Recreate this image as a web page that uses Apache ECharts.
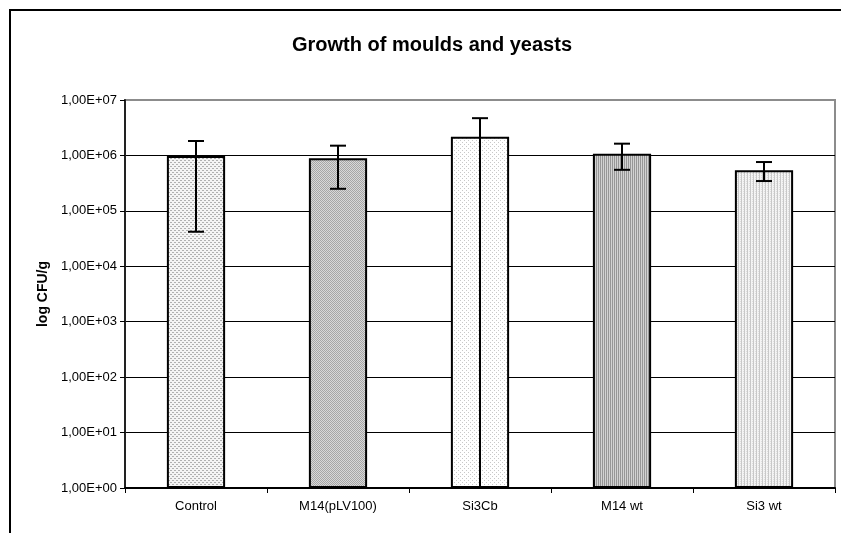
<!DOCTYPE html>
<html>
<head>
<meta charset="utf-8">
<style>
  html, body { margin: 0; padding: 0; background: #fff; }
  #chart { width: 841px; height: 533px; }
</style>
<script src="https://cdn.jsdelivr.net/npm/echarts@6/dist/echarts.min.js"></script>
</head>
<body>
<div id="chart"></div>
<script>
// Samples and colony counts (CFU/g)
const categories = ['Control', 'M14(pLV100)', 'Si3Cb', 'M14 wt', 'Si3 wt'];
const means      = [9.8e5, 8.9e5, 2.18e6, 1.07e6, 5.4e5];
const errHigh    = [1.82e6, 1.5e6, 4.7e6, 1.63e6, 7.6e5];
const errLow     = [4.2e4, 2.5e5, 0, 5.5e5, 3.45e5];   // 0 = lower end falls below the axis
const yTickExps  = [0, 1, 2, 3, 4, 5, 6, 7];

const FONT = '"Liberation Sans", Arial, sans-serif';

// Small repeating fill tiles, drawn pixel by pixel
function tile(w, h, bg, dots) {
  const c = document.createElement('canvas');
  c.width = w; c.height = h;
  const g = c.getContext('2d');
  g.fillStyle = bg; g.fillRect(0, 0, w, h);
  dots.forEach(([x, y, col]) => { g.fillStyle = col; g.fillRect(x, y, 1, 1); });
  return { image: c, repeat: 'repeat' };
}
const fills = [
  tile(4, 4, '#f4f4f4', [[0,0,'#b0b0b0'],[1,0,'#b0b0b0'],[2,2,'#b0b0b0'],[3,2,'#b0b0b0']]),
  tile(2, 2, '#d8d8d8', [[0,0,'#a6a6a6'],[1,1,'#a6a6a6']]),
  tile(4, 4, '#ffffff', [[0,0,'#c8c8c8'],[2,2,'#c8c8c8']]),
  tile(2, 1, '#d2d2d2', [[0,0,'#969696']]),
  tile(3, 2, '#f4f4f4', [[0,0,'#c8c8c8'],[0,1,'#c8c8c8'],[2,1,'#dedede']])
];

const barData = means.map((v, i) => ({ value: v, itemStyle: { color: fills[i] } }));
const errData = categories.map((c, i) => [i, errLow[i], errHigh[i]]);

const chart = echarts.init(document.getElementById('chart'), null, { renderer: 'canvas' });
chart.setOption({
  animation: false,
  backgroundColor: '#fff',
  grid: {
    left: 125, right: 6, top: 100, bottom: 45,
    show: true, borderColor: '#8c8c8c', borderWidth: 2, backgroundColor: '#fff'
  },
  graphic: [
    { type: 'rect', shape: { x: 10, y: 10, width: 1000, height: 800 },
      style: { fill: 'none', stroke: '#000', lineWidth: 2 }, silent: true, z: 100 },
    { type: 'text', x: 432, y: 45,
      style: { text: 'Growth of moulds and yeasts', font: 'bold 20px ' + FONT,
               fill: '#000', textAlign: 'center', textVerticalAlign: 'middle' } }
  ],
  xAxis: {
    type: 'category',
    data: categories,
    axisLine: { lineStyle: { color: '#000', width: 2 } },
    axisTick: { show: true, length: 5, lineStyle: { color: '#000', width: 1 } },
    axisLabel: { color: '#000', fontSize: 13, fontFamily: FONT, margin: 12 },
    splitLine: { show: false }
  },
  yAxis: {
    type: 'log', logBase: 10, min: 1, max: 1e7,
    name: 'log CFU/g', nameLocation: 'middle', nameGap: 74,
    nameTextStyle: { color: '#000', fontSize: 14, fontWeight: 'bold', fontFamily: FONT },
    axisLine: { show: true, lineStyle: { color: '#222', width: 2 } },
    axisTick: { show: true, length: 5, lineStyle: { color: '#000', width: 1 } },
    axisLabel: {
      color: '#000', fontSize: 13, fontFamily: FONT, margin: 8,
      formatter: v => {
        const e = Math.round(Math.log10(v));
        return yTickExps.includes(e) ? '1,00E+' + String(e).padStart(2, '0') : '';
      }
    },
    splitLine: { show: true, showMinLine: false, showMaxLine: false,
                 lineStyle: { color: '#000', width: 1 } }
  },
  series: [
    {
      type: 'bar',
      data: barData,
      barWidth: '41%',
      itemStyle: { borderColor: '#000', borderWidth: 2 }
    },
    {
      type: 'custom',
      data: errData,
      encode: { x: 0, y: 2 },
      z: 10,
      renderItem: (params, api) => {
        const i = api.value(0), lo = api.value(1), hi = api.value(2);
        const top = api.coord([i, hi]);
        const cs = params.coordSys;
        const bottomEdge = cs.y + cs.height;
        const yLo = lo > 1 ? api.coord([i, lo])[1] : bottomEdge;
        const x = top[0], half = 8;
        const st = { stroke: '#000', lineWidth: 2 };
        const kids = [
          { type: 'line', shape: { x1: x, y1: top[1], x2: x, y2: yLo }, style: st },
          { type: 'line', shape: { x1: x - half, y1: top[1], x2: x + half, y2: top[1] }, style: st }
        ];
        if (lo > 1) {
          kids.push({ type: 'line', shape: { x1: x - half, y1: yLo, x2: x + half, y2: yLo }, style: st });
        }
        return { type: 'group', children: kids };
      }
    }
  ]
});
</script>
</body>
</html>
